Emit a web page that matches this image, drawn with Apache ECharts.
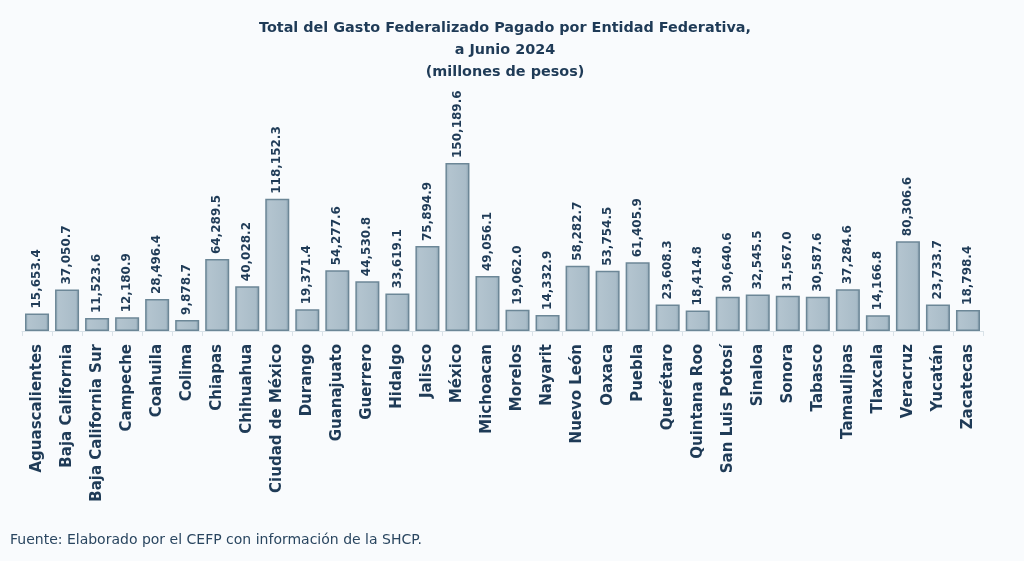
<!DOCTYPE html>
<html><head><meta charset="utf-8">
<script src="https://cdn.jsdelivr.net/npm/echarts@6/dist/echarts.min.js"></script>
<style>html,body{margin:0;padding:0;background:#f9fbfd;}#c{width:1024px;height:561px;}</style>
</head><body><div id="c"></div>
<script>
const categories = ["Aguascalientes","Baja California","Baja California Sur","Campeche","Coahuila","Colima","Chiapas","Chihuahua","Ciudad de México","Durango","Guanajuato","Guerrero","Hidalgo","Jalisco","México","Michoacan","Morelos","Nayarit","Nuevo León","Oaxaca","Puebla","Querétaro","Quintana Roo","San Luis Potosí","Sinaloa","Sonora","Tabasco","Tamaulipas","Tlaxcala","Veracruz","Yucatán","Zacatecas"];
const values = [15653.4,37050.7,11523.6,12180.9,28496.4,9878.7,64289.5,40028.2,118152.3,19371.4,54277.6,44530.8,33619.1,75894.9,150189.6,49056.1,19062.0,14332.9,58282.7,53754.5,61405.9,23608.3,18414.8,30640.6,32545.5,31567.0,30587.6,37284.6,14166.8,80306.6,23733.7,18798.4];
const titleLines = ["Total del Gasto Federalizado Pagado por Entidad Federativa,","a Junio 2024","(millones de pesos)"];
const source = "Fuente: Elaborado por el CEFP con información de la SHCP.";

const fmt = v => v.toLocaleString('en-US',{minimumFractionDigits:1,maximumFractionDigits:1});
const chart = echarts.init(document.getElementById('c'));
chart.setOption({
  backgroundColor:'#f9fbfd',
  title:{text:titleLines.join('\n'),left:500,textAlign:'center',top:12,
    textStyle:{fontFamily:'DejaVu Sans',fontWeight:'bold',fontSize:14.4,color:'#1f3b57',lineHeight:22}},
  graphic:[{type:'text',left:10,top:533,style:{text:source,font:'14px "DejaVu Sans"',fill:'#2a4660'}}],
  grid:{left:22,right:41,top:152,bottom:230},
  xAxis:{type:'category',data:categories,
    axisLine:{lineStyle:{color:'#d9e2e8',width:1}},
    axisTick:{show:true,lineStyle:{color:'#d9e2e8'},length:5},
    axisLabel:{rotate:90,interval:0,margin:13,fontFamily:'DejaVu Sans',fontWeight:'bold',fontSize:15,color:'#1f3b57'}},
  yAxis:{type:'value',min:0,max:160000,show:false,splitLine:{show:false}},
  series:[{type:'bar',data:values,barCategoryGap:'20%',
    itemStyle:{color:new echarts.graphic.LinearGradient(0,0,1,0,[{offset:0,color:'#98adbb'},{offset:0.15,color:'#b3c4cf'},{offset:0.85,color:'#a9bcc8'},{offset:1,color:'#8aa1b0'}]),
      borderColor:'#6c8797',borderWidth:1.5},
    label:{show:true,position:'top',rotate:90,align:'left',verticalAlign:'middle',distance:5,
      formatter:p=>fmt(p.value),fontFamily:'DejaVu Sans',fontWeight:'bold',fontSize:12,color:'#1f3b57'}}]
});
</script></body></html>
